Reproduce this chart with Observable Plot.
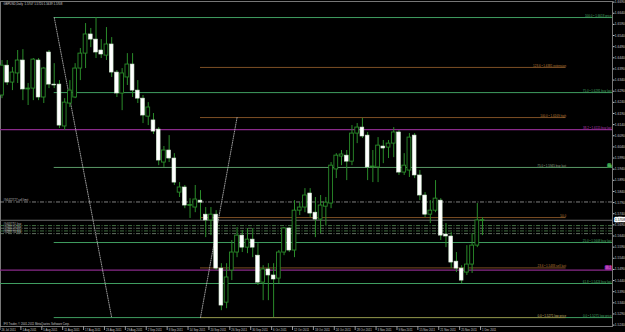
<!DOCTYPE html>
<html><head><meta charset="utf-8">
<script src="https://cdn.jsdelivr.net/npm/d3@7"></script>
<script src="https://cdn.jsdelivr.net/npm/@observablehq/plot@0.6"></script>
<style>html,body{margin:0;padding:0;background:#000;overflow:hidden}svg{display:block}</style>
</head><body><div id="chart"></div>
<script>
// ---- DATA (GBPUSD Daily, 26 Jul 2011 .. 1 Dec 2011, one entry per bar) ----
const open = [
1.6268,1.6402,1.6326,1.6367,1.6425,1.6295,1.6299,1.6425,1.6259,1.6461,
1.6317,1.6317,1.6129,1.6232,1.6259,1.6389,1.6456,1.6542,1.6519,1.6470,
1.6447,1.6497,1.6371,1.6277,1.6349,1.6407,1.6290,1.6254,1.6173,1.6156,
1.6115,1.5967,1.6021,1.5985,1.5832,1.5855,1.5774,1.5765,1.5796,1.5733,
1.5707,1.5733,1.5491,1.5338,1.5482,1.5563,1.5639,1.5585,1.5621,1.5549,
1.5428,1.5487,1.5460,1.5446,1.5563,1.5671,1.5572,1.5751,1.5765,1.5828,
1.5742,1.5711,1.5769,1.5783,1.5936,1.5994,1.5998,1.5971,1.6097,1.6124,
1.6088,1.5945,1.5945,1.6039,1.6034,1.6052,1.6102,1.5922,1.5931,1.6088,
1.5909,1.5819,1.5733,1.5751,1.5796,1.5644,1.5635,1.5522,1.5491,1.5473,
1.5509,1.5594,1.5707];
const high = [
1.6425,1.6425,1.6394,1.6470,1.6474,1.6322,1.6434,1.6434,1.6394,1.6470,
1.6411,1.6335,1.6254,1.6335,1.6411,1.6479,1.6591,1.6569,1.6618,1.6519,
1.6573,1.6528,1.6380,1.6389,1.6456,1.6456,1.6335,1.6268,1.6236,1.6187,
1.6124,1.6039,1.6088,1.6007,1.5877,1.5864,1.5805,1.5864,1.5841,1.5765,
1.5765,1.5751,1.5513,1.5513,1.5617,1.5675,1.5662,1.5671,1.5671,1.5603,
1.5504,1.5513,1.5513,1.5572,1.5675,1.5675,1.5796,1.5787,1.5850,1.5850,
1.5810,1.5819,1.5810,1.5967,1.6007,1.6021,1.6021,1.6133,1.6142,1.6165,
1.6102,1.6021,1.6079,1.6066,1.6066,1.6124,1.6111,1.6007,1.6097,1.6097,
1.5931,1.5832,1.5796,1.5886,1.5805,1.5693,1.5653,1.5563,1.5504,1.5594,
1.5648,1.5783,1.5720];
const low = [
1.6254,1.6313,1.6290,1.6322,1.6245,1.6223,1.6245,1.6245,1.6232,1.6299,
1.6299,1.6120,1.6111,1.6214,1.6254,1.6335,1.6389,1.6483,1.6434,1.6434,
1.6425,1.6349,1.6259,1.6200,1.6313,1.6259,1.6232,1.6142,1.6133,1.6093,
1.5953,1.5945,1.5967,1.5864,1.5810,1.5760,1.5716,1.5742,1.5707,1.5630,
1.5639,1.5482,1.5302,1.5311,1.5437,1.5540,1.5563,1.5558,1.5540,1.5415,
1.5347,1.5347,1.5271,1.5424,1.5549,1.5563,1.5540,1.5729,1.5742,1.5720,
1.5630,1.5648,1.5684,1.5760,1.5895,1.5953,1.5886,1.5953,1.6052,1.6075,
1.5886,1.5877,1.5877,1.5962,1.5985,1.5989,1.5909,1.5909,1.5900,1.5895,
1.5796,1.5720,1.5693,1.5742,1.5617,1.5585,1.5491,1.5473,1.5424,1.5460,
1.5469,1.5585,1.5639];
const close = [
1.6402,1.6326,1.6371,1.6425,1.6295,1.6299,1.6429,1.6259,1.6389,1.6317,
1.6313,1.6133,1.6236,1.6290,1.6389,1.6456,1.6542,1.6519,1.6461,1.6452,
1.6497,1.6371,1.6277,1.6367,1.6407,1.6290,1.6254,1.6178,1.6214,1.6106,
1.5976,1.6021,1.5985,1.5877,1.5855,1.5774,1.5776,1.5801,1.5787,1.5707,
1.5733,1.5491,1.5325,1.5451,1.5563,1.5639,1.5585,1.5621,1.5585,1.5428,
1.5487,1.5460,1.5442,1.5563,1.5671,1.5572,1.5751,1.5765,1.5819,1.5738,
1.5711,1.5774,1.5787,1.5953,1.5998,1.6003,1.5971,1.6097,1.6124,1.6084,
1.5945,1.5949,1.6043,1.6030,1.6052,1.6102,1.5922,1.5953,1.6079,1.5909,
1.5819,1.5733,1.5751,1.5805,1.5639,1.5635,1.5518,1.5491,1.5437,1.5509,
1.5594,1.5707,1.5708];

const dateTickBars = [0,4,8,12,16,20,24,28,32,36,40,44,48,52,56,60,64,68,72,76,80,84,88,92];
const dateTickLabels = ["26 Jul 2011","1 Aug 2011","5 Aug 2011","11 Aug 2011","17 Aug 2011","23 Aug 2011",
  "29 Aug 2011","2 Sep 2011","8 Sep 2011","14 Sep 2011","20 Sep 2011","26 Sep 2011","30 Sep 2011",
  "6 Oct 2011","12 Oct 2011","18 Oct 2011","24 Oct 2011","28 Oct 2011","3 Nov 2011","9 Nov 2011",
  "15 Nov 2011","21 Nov 2011","25 Nov 2011","1 Dec 2011"];
const priceTicks = [1.5240,1.5290,1.5340,1.5390,1.5440,1.5490,1.5540,1.5590,1.5640,1.5690,
  1.5740,1.5790,1.5840,1.5890,1.5940,1.5990,1.6040,1.6090,1.6140,1.6190,
  1.6240,1.6290,1.6340,1.6390,1.6440,1.6490,1.6540,1.6590,1.6640,1.6690];

// Fibo 1 (Aug high -> Oct low)
const fib1Bars = [10, 21];
const fib1Anchor = [1.6618, 1.5271];
const fib1Levels = [1.6618, 1.6281, 1.5608, 1.5271];
const fib1Labels = ["100.0 • 1.6618 price", "75.0 • 1.6281 buy last", "25.0 • 1.5608 buy last", "0.0 • 1.5271 low price"];
const fib1Mid = [1.5945];
const fib1MidLabel = ["fib"];
// Fibo 2 (Oct low -> Oct high)
const fib2Bars = [38, 45];
const fib2Anchor = [1.5271, 1.6169];
const fib2EndBar = 108;
const fib2Levels = [1.6394, 1.6169, 1.5720, 1.5494];
const fib2Labels = ["123.6 • 1.6381 extension", "100.0 • 1.6169 high", "50.0", "23.6 • 1.5483 sell last"];
const fib2Low = [1.5271];
const fib2LowLabel = ["0.0 • 1.5271 low price"];
const fib2MidLabel = ["75.0 • 1.5945 buy last"];
// Full-width levels
const purpleLevels = [1.6115, 1.5484];
const purpleLabel = ["38.2 • 1.6115 buy last"];
const purpleBox = ["38.2"];
const greenLevel = [1.5424];
const greenLabel = ["61.8 • 1.5424 buy last"];
// Orders
const sellLimit = [1.5790];
const sellLimitLabel = ["#94422727 sell limit"];
const buyOrders = [1.5684, 1.5672, 1.5660, 1.5648];
const buyLabels = ["#94487751 buy", "#94487754 buy", "#94487755 buy", "#94487756 buy"];
const bid = [1.5708];
const header = "GBPUSD,Daily  1.5707 1.5720 1.5639 1.5708";
const copyright = "IFX Trader, © 2001-2011 MetaQuotes Software Corp.";

// ---- CHART ----
const candles = open.map((o, i) => ({i, open: o, high: high[i], low: low[i], close: close[i]}));
const bulls = candles.filter(d => d.close >= d.open);
const bears = candles.filter(d => d.close < d.open);
const dojis = candles.filter(d => Math.abs(d.close - d.open) < 0.0003);
const xDomain = [-0.287, 116.88];
const xEnd = () => xDomain[1];
const xStart = () => xDomain[0];
const G = "#2a8c2a";
const FIBG = "#3f9d60";
const FONT = "Liberation Sans, Arial, sans-serif";
const hw = 0.36;

const chart = Plot.plot({
  width: 625, height: 332,
  marginLeft: 0, marginRight: 13, marginTop: 1, marginBottom: 6,
  style: {background: "#000", color: "#bbb", fontFamily: FONT, overflow: "visible"},
  x: {type: "linear", domain: xDomain, axis: null},
  y: {domain: [1.5231, 1.6690], axis: null},
  marks: [
    Plot.frame({stroke: "#777"}),
    // fib 1 lines
    Plot.ruleY(fib1Levels, {y: d => d, x1: () => fib1Bars[0], x2: xEnd, stroke: FIBG}),
    Plot.ruleY(fib1Mid, {y: d => d, x1: () => fib1Bars[0], x2: xEnd, stroke: "#5a9a66"}),
    // fib 2 lines
    Plot.ruleY(fib2Levels, {y: d => d, x1: () => fib2Bars[0], x2: () => fib2EndBar, stroke: "#7d4f25"}),
    Plot.ruleY(fib2Low, {y: d => d, x1: () => fib2Bars[0], x2: () => fib2EndBar, stroke: "#8a8642"}),
    // full width
    Plot.ruleY(purpleLevels, {y: d => d, x1: xStart, x2: xEnd, stroke: "#8a2a8a", strokeWidth: 1.2}),
    Plot.ruleY(greenLevel, {y: d => d, x1: xStart, x2: xEnd, stroke: FIBG}),
    // orders
    Plot.ruleY(sellLimit, {y: d => d, x1: xStart, x2: xEnd, stroke: "#a0a0a0", strokeDasharray: "4,1.5,1,1.5", strokeWidth: 0.8}),
    Plot.ruleY(buyOrders, {y: d => d, x1: xStart, x2: xEnd, stroke: (d, i) => i % 2 ? "#7a8a7a" : "#4f8a4f", strokeDasharray: "4,1.5,1,1.5", strokeWidth: 0.8}),
    Plot.ruleY(bid, {y: d => d, x1: xStart, x2: xEnd, stroke: "#6a6a6a", strokeWidth: 1.2}),
    // dotted fibo base lines
    Plot.line(fib1Bars.map((b, k) => ({b, p: fib1Anchor[k]})), {x: "b", y: "p", stroke: "#bbb", strokeWidth: 0.8, strokeDasharray: "1,1.3"}),
    Plot.line(fib2Bars.map((b, k) => ({b, p: fib2Anchor[k]})), {x: "b", y: "p", stroke: "#bbb", strokeWidth: 0.8, strokeDasharray: "1,1.3"}),
    // candles
    Plot.ruleX(candles, {x: "i", y1: "low", y2: "high", stroke: G, strokeWidth: 1}),
    Plot.rect(bulls, {x1: d => d.i - hw, x2: d => d.i + hw, y1: "open", y2: "close", fill: "#000", stroke: G, strokeWidth: 0.9}),
    Plot.rect(bears, {x1: d => d.i - hw, x2: d => d.i + hw, y1: "open", y2: "close", fill: "#fff", stroke: "#cfe8cf", strokeWidth: 0.6}),
    Plot.ruleY(dojis, {y: "close", x1: d => d.i - hw, x2: d => d.i + hw, stroke: d => d.close < d.open ? "#fff" : G, strokeWidth: 1}),
    // right-column labels
    Plot.text(fib1Levels, {y: d => d, x: xEnd, text: (d, i) => fib1Labels[i], textAnchor: "end", dx: -0.8, dy: -1.8, fontSize: 3, fill: "#45a865"}),
    Plot.text(fib1Mid, {y: d => d, x: xEnd, text: (d, i) => fib1MidLabel[i], textAnchor: "end", dx: -1.5, dy: -1.6, fontSize: 2.8, fill: "#7fd07f", stroke: "#2f8f3f", strokeWidth: 2, paintOrder: "stroke"}),
    Plot.text([purpleLevels[0]], {y: d => d, x: xEnd, text: (d, i) => purpleLabel[i], textAnchor: "end", dx: -0.8, dy: -1.8, fontSize: 3, fill: "#b83ab8"}),
    Plot.text([purpleLevels[1]], {y: d => d, x: xEnd, text: (d, i) => purpleBox[i], textAnchor: "end", dx: -1.5, dy: -1.6, fontSize: 2.8, fill: "#e080e0", stroke: "#9a259a", strokeWidth: 2, paintOrder: "stroke"}),
    Plot.text(greenLevel, {y: d => d, x: xEnd, text: (d, i) => greenLabel[i], textAnchor: "end", dx: -0.8, dy: -1.8, fontSize: 3, fill: "#45a865"}),
    // fib 2 labels
    Plot.text(fib2Levels, {y: d => d, x: () => fib2EndBar, text: (d, i) => fib2Labels[i], textAnchor: "end", dy: -1.8, fontSize: 3, fill: "#b97a35"}),
    Plot.text(fib2Low, {y: d => d, x: () => fib2EndBar, text: (d, i) => fib2LowLabel[i], textAnchor: "end", dy: -1.8, fontSize: 3, fill: "#c2b46a"}),
    Plot.text(fib1Mid, {y: d => d, x: () => fib2EndBar, text: (d, i) => fib2MidLabel[i], textAnchor: "end", dy: -1.8, fontSize: 3, fill: "#8f9f80"}),
    // order labels
    Plot.text(sellLimit, {y: d => d, x: xStart, text: (d, i) => sellLimitLabel[i], textAnchor: "start", dx: 3, dy: -1.5, fontSize: 2.8, fill: "#bbb"}),
    Plot.text(buyOrders, {y: d => d, x: xStart, text: (d, i) => buyLabels[i], textAnchor: "start", dx: 3, dy: -1.2, fontSize: 2.6, fill: "#bbb"}),
    // right price axis
    Plot.axisY({anchor: "right", ticks: priceTicks, tickSize: 1.5, tickPadding: 0.8, tickFormat: d => d.toFixed(4), fontSize: 3.3, color: "#c8c8c8", label: null, dy: 0.6}),
    Plot.text(bid, {y: d => d, frameAnchor: "right", text: d => d.toFixed(4), textAnchor: "start", dx: 2.4, fontSize: 3.3, fill: "#000", stroke: "#fff", strokeWidth: 2.4, paintOrder: "stroke"}),
    // bottom date axis
    Plot.axisX({anchor: "bottom", ticks: dateTickBars, tickSize: 4, tickFormat: () => "", dx: -2, color: "#999", label: null}),
    Plot.text(dateTickBars, {x: d => d, text: (d, i) => dateTickLabels[i], frameAnchor: "bottom", dy: 3.4, dx: -0.5, textAnchor: "start", lineAnchor: "middle", fontSize: 2.8, fill: "#c8c8c8"}),
    // header & copyright
    Plot.text([header], {frameAnchor: "top-left", text: d => d, dx: 3, dy: 2.5, textAnchor: "start", lineAnchor: "middle", fontSize: 2.9, fill: "#d0d0d0"}),
    Plot.text([copyright], {frameAnchor: "bottom-left", text: d => d, dx: 3, dy: -2, textAnchor: "start", lineAnchor: "middle", fontSize: 2.8, fill: "#c8c8c8"})
  ]
});
document.getElementById("chart").append(chart);
</script>
</body></html>
